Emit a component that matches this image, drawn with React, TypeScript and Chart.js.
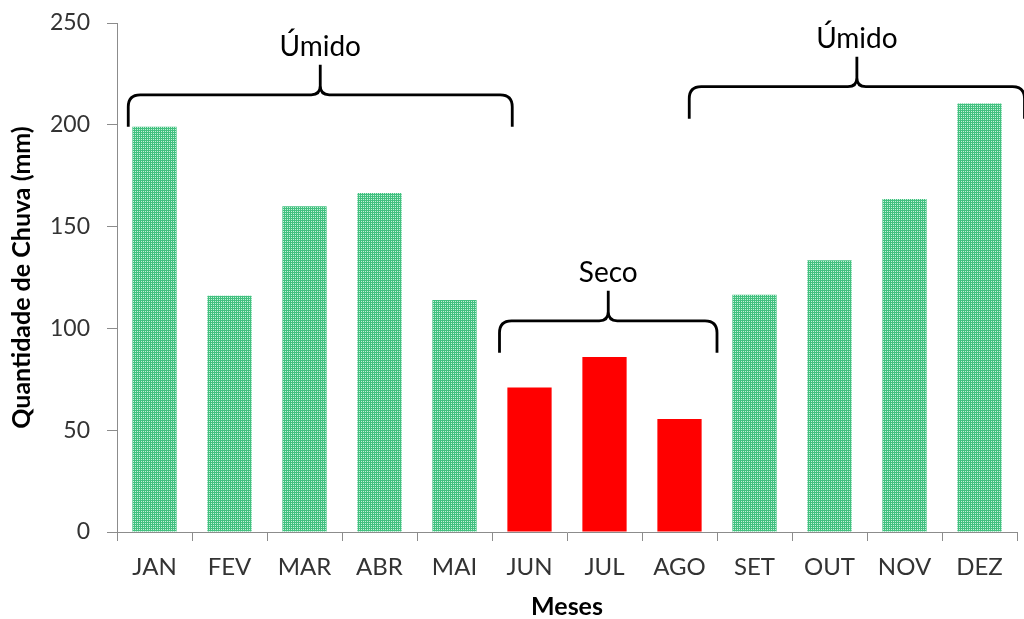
import { useEffect, useRef } from 'react';
import { Chart, registerables } from 'chart.js';

Chart.register(...registerables);

// Monthly rainfall (mm)
const months = ['JAN', 'FEV', 'MAR', 'ABR', 'MAI', 'JUN', 'JUL', 'AGO', 'SET', 'OUT', 'NOV', 'DEZ'];
const rainfall = [199, 116, 160, 166.5, 114, 71, 86, 55.5, 116.5, 133.5, 163.5, 210.5];
const dryMonths = ['JUN', 'JUL', 'AGO'];

// Season braces: label, start/end (category index), base value (mm)
const braceLabels = ['Úmido', 'Seco', 'Úmido'];
const braceFrom = [-0.35, 4.6, 7.13];
const braceTo = [4.77, 7.5, 11.6];
const braceBase = [199, 88, 203];

const FONT = 'Lato, "Open Sans", sans-serif';

function makeDotPattern(): CanvasPattern | string {
  const tile = document.createElement('canvas');
  tile.width = 2;
  tile.height = 2;
  const t = tile.getContext('2d');
  if (!t) return '#62cc96';
  t.fillStyle = '#41c17f';
  t.fillRect(0, 0, 2, 2);
  t.fillStyle = '#c6efda';
  t.fillRect(1, 1, 1, 1);
  const main = document.createElement('canvas').getContext('2d');
  const p = main ? main.createPattern(tile, 'repeat') : null;
  return p || '#62cc96';
}

function drawBrace(ctx: CanvasRenderingContext2D, x0: number, x1: number, yTip: number) {
  const yLine = yTip - 32;
  const yPeak = yLine - 30;
  const xm = (x0 + x1) / 2;
  const r = 12;
  const s = 9;
  ctx.beginPath();
  ctx.moveTo(x0, yTip);
  ctx.lineTo(x0, yLine + r);
  ctx.quadraticCurveTo(x0, yLine, x0 + r, yLine);
  ctx.lineTo(xm - s, yLine);
  ctx.quadraticCurveTo(xm, yLine, xm, yLine - s);
  ctx.lineTo(xm, yPeak);
  ctx.moveTo(xm, yLine - s);
  ctx.quadraticCurveTo(xm, yLine, xm + s, yLine);
  ctx.lineTo(x1 - r, yLine);
  ctx.quadraticCurveTo(x1, yLine, x1, yLine + r);
  ctx.lineTo(x1, yTip);
  ctx.stroke();
  return { xm, yPeak };
}

const bracePlugin = {
  id: 'seasonBraces',
  afterDatasetsDraw(chart: any) {
    const { ctx, scales } = chart;
    const xs = scales.x;
    const ys = scales.y;
    ctx.save();
    ctx.strokeStyle = '#000000';
    ctx.lineWidth = 2.8;
    ctx.lineJoin = 'round';
    ctx.lineCap = 'butt';
    for (let i = 0; i < braceLabels.length; i++) {
      const x0 = xs.getPixelForValue(braceFrom[i]);
      const x1 = xs.getPixelForValue(braceTo[i]);
      const yTip = ys.getPixelForValue(braceBase[i]);
      const { xm, yPeak } = drawBrace(ctx, x0, x1, yTip);
      ctx.fillStyle = '#000000';
      ctx.font = `28px ${FONT}`;
      ctx.textAlign = 'center';
      ctx.textBaseline = 'middle';
      ctx.fillText(braceLabels[i], xm, yPeak - 18);
    }
    ctx.restore();
  },
};

export default function App() {
  const canvasRef = useRef<HTMLCanvasElement | null>(null);

  useEffect(() => {
    const canvas = canvasRef.current;
    if (!canvas) return;
    const green = makeDotPattern();
    const colors = months.map((m) => (dryMonths.includes(m) ? '#ff0000' : green));

    const chart = new Chart(canvas, {
      type: 'bar',
      data: {
        labels: months,
        datasets: [
          {
            data: rainfall,
            backgroundColor: colors as any,
            borderWidth: 0,
            barPercentage: 0.59,
            categoryPercentage: 1,
          },
        ],
      },
      options: {
        responsive: false,
        animation: false,
        events: [],
        layout: { padding: { top: 23, right: 7, left: 0, bottom: 0 } },
        plugins: {
          legend: { display: false },
          tooltip: { enabled: false },
        },
        scales: {
          x: {
            grid: {
              display: true,
              drawOnChartArea: false,
              drawTicks: true,
              tickLength: 9,
              color: '#8c8c8c',
              lineWidth: 1,
            },
            border: { display: true, color: '#8c8c8c', width: 1 },
            ticks: {
              color: '#333333',
              font: { family: FONT, size: 24 },
              padding: 12,
              maxRotation: 0,
            },
            title: {
              display: true,
              text: 'Meses',
              color: '#000000',
              font: { family: FONT, size: 25, weight: 'bold', lineHeight: 1 },
              padding: { top: 0, bottom: 0 },
            },
            afterFit(scale: any) {
              scale.height = 87;
            },
          },
          y: {
            min: 0,
            max: 250,
            grid: {
              display: true,
              drawOnChartArea: false,
              drawTicks: true,
              tickLength: 10,
              color: '#8c8c8c',
              lineWidth: 1,
            },
            border: { display: true, color: '#8c8c8c', width: 1 },
            ticks: {
              stepSize: 50,
              color: '#333333',
              font: { family: FONT, size: 23 },
              padding: 17,
            },
            title: {
              display: true,
              text: 'Quantidade de Chuva (mm)',
              color: '#000000',
              font: { family: FONT, size: 25, weight: 'bold', lineHeight: 1 },
              padding: { top: 9, bottom: 0 },
            },
            afterFit(scale: any) {
              scale.width = 117;
              scale.paddingTop = 0;
              scale.paddingBottom = 0;
            },
          },
        },
      },
      plugins: [bracePlugin],
    });

    return () => chart.destroy();
  }, []);

  return (
    <div style={{ position: 'absolute', left: 0, top: 0, width: 1024, height: 619, background: '#ffffff' }}>
      <canvas ref={canvasRef} width={1024} height={619} />
    </div>
  );
}
